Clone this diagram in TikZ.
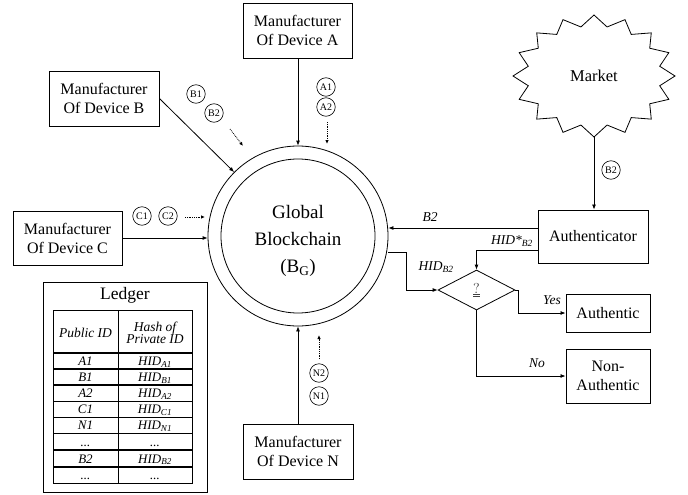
\documentclass[tikz,border=0pt]{standalone}
\usepackage{fontspec}
\setmainfont{Liberation Serif}
\usetikzlibrary{arrows.meta,shapes.geometric,calc}
\begin{document}
\begin{tikzpicture}[x=1pt,y=-1pt,
  box/.style={draw,line width=0.9pt,align=center,inner sep=0pt,font=\fontsize{16}{19}\selectfont},
  arr/.style={line width=0.8pt,-{Latex[length=5pt,width=4pt]}},
  dotarr/.style={line width=0.8pt,densely dotted,-{Latex[length=4pt,width=3.5pt]}},
  tag/.style={circle,draw,line width=0.6pt,inner sep=0pt,minimum size=18.5pt,font=\fontsize{10}{11}\selectfont},
  lbl/.style={font=\fontsize{13.5}{15}\selectfont\itshape,inner sep=0pt},
  cell/.style={font=\fontsize{13}{12}\selectfont\itshape,inner sep=0pt,anchor=base},
  thickrow/.style={line width=1.6pt},
  thinrow/.style={line width=0.9pt}
]
\useasboundingbox (0,0) rectangle (688,495);

% manufacturers
\node[box,minimum width=109pt,minimum height=55pt] (mA) at (297.5,30.5) {Manufacturer\\Of Device A};
\node[box,minimum width=110pt,minimum height=55pt] (mB) at (104,98.5) {Manufacturer\\Of Device B};
\node[box,minimum width=109pt,minimum height=54pt] (mC) at (67.5,238) {Manufacturer\\Of Device C};
\node[box,minimum width=110pt,minimum height=55pt] (mN) at (298,451.5) {Manufacturer\\Of Device N};

% blockchain
\node[circle,draw,line width=0.8pt,minimum size=180pt,inner sep=0pt] (bc) at (298,236) {};
\node[circle,draw,line width=0.8pt,minimum size=154pt,inner sep=0pt] (bci) at (298,236) {};
\node[align=center,font=\fontsize{19}{27}\selectfont] (bct) at (298,241) {Global\\Blockchain\\(B\textsubscript{G})};

% market
\node[font=\fontsize{16.5}{19}\selectfont,inner sep=0pt] (market) at (594,76) {Market};
\draw[line width=0.8pt] ($(market.center)+(90:81 and 61)$)
  \foreach \k in {0,...,15}{ -- ($(market.center)+({90+22.5*\k+11.25}:67 and 50)$) -- ($(market.center)+({90+22.5*(\k+1)}:81 and 61)$) } -- cycle;
\coordinate (mkts) at ($(market.center)+(0,61)$);

% right side
\node[box,minimum width=110pt,minimum height=53pt] (auth) at (593,236.5) {Authenticator};
\node[draw,diamond,line width=0.8pt,minimum width=77pt,minimum height=40pt,inner sep=0pt,font=\fontsize{15}{17}\selectfont,text=black!75] (dia) at (476.5,290) {$\underline{\underline{?}}$};
\node[box,minimum width=84pt,minimum height=38pt] (authc) at (608,313) {Authentic};
\node[box,minimum width=84pt,minimum height=54pt] (nauth) at (608,376) {Non-\\Authentic};

% arrows into blockchain
\draw[arr] (mA.south -| bc.north) -- (bc.north);
\draw[arr] (mB.east) -- (bc.135);
\draw[arr] (mC.east) -- (mC.east -| bc.west);
\draw[arr] (mN.north -| bc.south) -- (bc.south);

% tags
\node[tag] (tA1) at (326,87) {A1};
\node[tag] (tA2) at (326,107) {A2};
\node[tag] (tB1) at (196,94) {B1};
\node[tag] (tB2) at (214,113) {B2};
\node[tag] (tC1) at (142,216) {C1};
\node[tag] (tC2) at (168,216) {C2};
\node[tag] (tN2) at (319,373) {N2};
\node[tag] (tN1) at (319,396) {N1};
\node[tag] (tM) at (611,170) {B2};

% dotted arrows
\coordinate (dAs) at (327,122); \coordinate (dAe) at (327,144);
\coordinate (dBs) at (230,129); \coordinate (dBe) at (243,146);
\coordinate (dCs) at (185,217); \coordinate (dCe) at (205,217);
\coordinate (dNs) at (319,359); \coordinate (dNe) at (319,335);
\draw[dotarr] (dAs) -- (dAe);
\draw[dotarr] (dBs) -- (dBe);
\draw[dotarr] (dCs) -- (dCe);
\draw[dotarr] (dNs) -- (dNe);

% market to authenticator
\draw[arr] (mkts) -- (mkts |- auth.north);

% authenticator to blockchain
\draw[arr] (auth.west |- 0,228) -- (bc.east |- 0,228) node[lbl,pos=0.72,above=6pt] (lB2) {B2};
% authenticator to diamond
\draw[arr] (auth.west |- 0,250) -| (dia.north);
\node[lbl] (lHs) at (512,241) {HID*\textsubscript{B2}};
% blockchain to diamond
\coordinate (bend1) at (406,252);
\draw[arr] (bc.east |- bend1) -- (bend1) |- (dia.west);
\node[lbl] (lH) at (436,267) {HID\textsubscript{B2}};
% diamond to results
\draw[arr] (dia.east) -- ++(2.5,0) |- (authc.west);
\node[lbl] (lY) at (552,300) {Yes};
\draw[arr] (dia.south) |- (nauth.west);
\node[lbl] (lN) at (537,363) {No};

% ledger
\node[draw,line width=0.9pt,minimum width=164pt,minimum height=210pt,inner sep=0pt] (ledger) at (125,387) {};
\node[font=\fontsize{17.5}{20}\selectfont,inner sep=0pt] (ltitle) at (125,295) {Ledger};
\draw[line width=0.9pt] (53,310) rectangle (192,483);
\draw[line width=0.9pt] (118,310) -- (118,483);
\foreach \y in {353,369,385,450,467} \draw[thickrow] (53,\y) -- (192,\y);
\foreach \y in {401,417,433} \draw[thinrow] (53,\y) -- (192,\y);
\node[font=\fontsize{13.5}{12}\selectfont\itshape,inner sep=0pt] (h1) at (85.5,333) {Public ID};
\node[font=\fontsize{13.5}{12.5}\selectfont\itshape,inner sep=0pt,align=center] (h2) at (155,333) {Hash of\\Private ID};
\foreach \a/\b/\y in {A1/A1/365.5,B1/B1/381.5,A2/A2/397.5,C1/C1/413.5,N1/N1/429.5,B2/B2/463}{
  \node[cell] at (85.5,\y) {\a};
  \node[cell] at (155,\y) {HID\textsubscript{\b}};
}
\node[cell] at (85.5,446) {...};
\node[cell] at (155,446) {...};
\node[cell] at (85.5,479) {...};
\node[cell] at (155,479) {...};
\end{tikzpicture}
\end{document}
